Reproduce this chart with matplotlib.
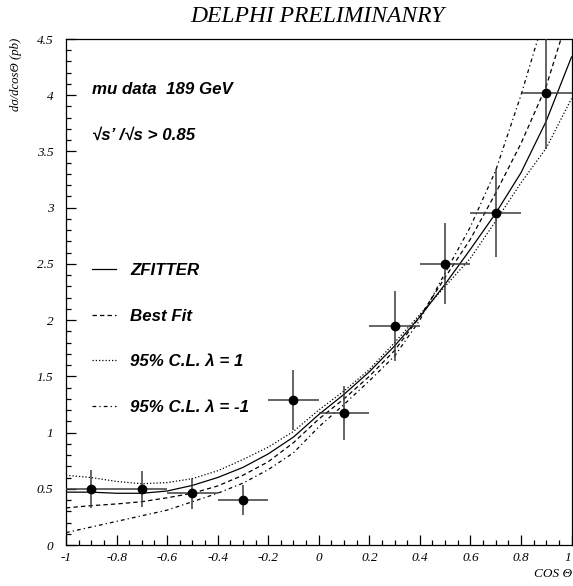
import numpy as np
import matplotlib
matplotlib.use('Agg')
import matplotlib.pyplot as plt
from matplotlib.ticker import MultipleLocator, FixedLocator

plt.rcParams['axes.unicode_minus'] = False

# data points (mu data, 189 GeV)
cos_pts = [-0.9, -0.7, -0.5, -0.3, -0.1, 0.1, 0.3, 0.5, 0.7, 0.9]
xsec_pts = [0.50, 0.50, 0.46, 0.40, 1.29, 1.17, 1.95, 2.50, 2.95, 4.02]
xsec_err = [0.17, 0.16, 0.14, 0.13, 0.27, 0.24, 0.31, 0.36, 0.39, 0.50]
cos_err = [0.1] * 10

# curves
cos_grid = [-1.0, -0.9, -0.8, -0.7, -0.6, -0.5, -0.4, -0.3, -0.2, -0.1, 0.0,
            0.1, 0.2, 0.3, 0.4, 0.5, 0.6, 0.7, 0.8, 0.9, 1.0]
zfitter = [0.47, 0.47, 0.46, 0.46, 0.48, 0.53, 0.60, 0.69, 0.81, 0.96, 1.16,
           1.34, 1.54, 1.77, 2.03, 2.32, 2.63, 2.95, 3.31, 3.77, 4.34]
best_fit = [0.33, 0.35, 0.365, 0.385, 0.42, 0.46, 0.525, 0.62, 0.74, 0.91, 1.12,
            1.30, 1.50, 1.73, 2.03, 2.38, 2.72, 3.13, 3.57, 4.08, 4.80]
cl_plus = [0.62, 0.60, 0.565, 0.545, 0.555, 0.59, 0.66, 0.76, 0.87, 1.01, 1.20,
           1.37, 1.56, 1.80, 2.05, 2.30, 2.55, 2.88, 3.22, 3.53, 3.97]
cl_minus = [0.11, 0.16, 0.21, 0.26, 0.31, 0.385, 0.46, 0.55, 0.67, 0.82, 1.05,
            1.25, 1.46, 1.68, 2.00, 2.42, 2.83, 3.33, 4.00, 4.75, 5.60]

xticks = [-1, -0.8, -0.6, -0.4, -0.2, 0, 0.2, 0.4, 0.6, 0.8, 1]
xticklabels = ['-1', '-0.8', '-0.6', '-0.4', '-0.2', '0', '0.2', '0.4', '0.6', '0.8', '1']
yticks = [0, 0.5, 1, 1.5, 2, 2.5, 3, 3.5, 4, 4.5]
yticklabels = ['0', '0.5', '1', '1.5', '2', '2.5', '3', '3.5', '4', '4.5']

serif = 'Liberation Serif'
sans = 'Liberation Sans'

fig = plt.figure(figsize=(5.73, 5.86), dpi=100)
ax = fig.add_axes([66 / 573, 41 / 586, 505.5 / 573, 506 / 586])

lw = 0.9
ax.plot(cos_grid, zfitter, color='black', lw=lw, label='ZFITTER')
ax.plot(cos_grid, best_fit, color='black', lw=lw, dashes=(3.5, 2.5), label='Best Fit')
ax.plot(cos_grid, cl_plus, color='black', lw=lw, dashes=(1, 1.6), label='95% C.L. λ = 1')
ax.plot(cos_grid, cl_minus, color='black', lw=lw, dashes=(3, 2.5, 1, 2.5), label='95% C.L. λ = -1')

ax.errorbar(cos_pts, xsec_pts, xerr=cos_err, yerr=xsec_err, fmt='o', color='black',
            ecolor='#3a3a3a', elinewidth=1.1, markersize=6, capsize=0, zorder=5)

ax.set_xlim(-1, 1)
ax.set_ylim(0, 4.5)

ax.xaxis.set_major_locator(FixedLocator(xticks))
ax.xaxis.set_minor_locator(MultipleLocator(0.05))
ax.yaxis.set_major_locator(FixedLocator(yticks))
ax.yaxis.set_minor_locator(MultipleLocator(0.1))
ax.set_xticklabels(xticklabels, fontfamily=serif, fontstyle='italic', fontsize=9.5)
ax.set_yticklabels(yticklabels, fontfamily=serif, fontstyle='italic', fontsize=9.5)
ax.get_xticklabels()[-1].set_horizontalalignment('right')
ax.tick_params(axis='both', which='both', direction='in', top=False, right=False, width=0.9)
ax.tick_params(axis='both', which='major', length=7)
ax.tick_params(axis='both', which='minor', length=3.5)
ax.tick_params(axis='y', which='major', pad=9)
ax.tick_params(axis='x', which='major', pad=5)
for s in ax.spines.values():
    s.set_linewidth(0.9)

leg = ax.legend(loc='upper left', bbox_to_anchor=(0.051, 0.557), frameon=False,
                prop={'family': sans, 'weight': 'bold', 'style': 'italic', 'size': 12.2},
                handlelength=1.45, handletextpad=0.8, labelspacing=1.8,
                borderpad=0, borderaxespad=0)

bi = dict(fontfamily=sans, fontweight='bold', fontstyle='italic', fontsize=12.2,
          transform=ax.transAxes, va='center', ha='left')
ax.text(0.051, 0.901, 'mu data  189 GeV', **bi)
ax.text(0.051, 0.810, '√s\u2019 /√s > 0.85', **bi)

fig.text(317 / 573, 1 - 16 / 586, 'DELPHI PRELIMINANRY', fontfamily=serif,
         fontstyle='italic', fontsize=17, ha='center', va='center')
fig.text(16 / 573, 1 - 38 / 586, 'dσ/dcosΘ (pb)', fontfamily=serif, fontstyle='italic',
         fontsize=9.2, rotation=90, ha='center', va='top')
fig.text(572 / 573, 1 - 574 / 586, 'COS Θ', fontfamily=serif, fontstyle='italic',
         fontsize=9.5, ha='right', va='center')

fig.savefig('out.png', dpi=100)
